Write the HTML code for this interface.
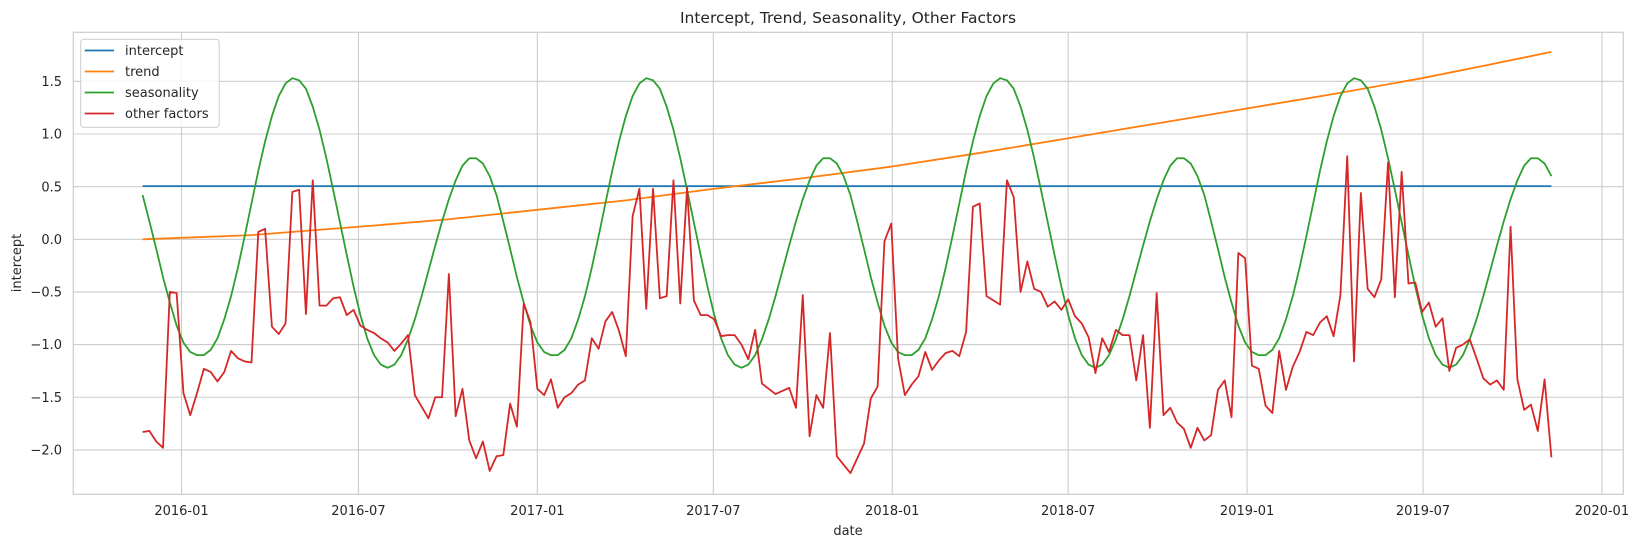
<!DOCTYPE html>
<html><head><meta charset="utf-8">
<style>
html,body{margin:0;padding:0;background:#fff;}
svg{display:block;font-family:"DejaVu Sans","Liberation Sans",sans-serif;}
</style></head>
<body>
<svg id="chart" width="1640" height="547" viewBox="0 0 1640 547" xmlns="http://www.w3.org/2000/svg">
<rect width="1640" height="547" fill="#fff"/>
<text x="848" y="23" text-anchor="middle" font-size="15.5" fill="#262626">Intercept, Trend, Seasonality, Other Factors</text>
<text x="848" y="535" text-anchor="middle" font-size="13" fill="#262626">date</text>
<text transform="translate(21,263) rotate(-90)" text-anchor="middle" font-size="13" fill="#262626">intercept</text>
<g id="grid"></g>
<g id="series"></g>
<rect x="73.3" y="32.3" width="1550" height="462" fill="none" stroke="#cccccc" stroke-width="1.2"/>
<g id="legend"></g>
</svg>
<script>
// ---- data ----
const startDate = "2015-11-22";
const xTickLabels = ["2016-01","2016-07","2017-01","2017-07","2018-01","2018-07","2019-01","2019-07","2020-01"];
const yTickValues = [1.5,1.0,0.5,0.0,-0.5,-1.0,-1.5,-2.0];
const yTickLabels = ["1.5","1.0","0.5","0.0","\u22120.5","\u22121.0","\u22121.5","\u22122.0"];
const interceptValue = [0.505];
const trendWeeks = [0,16,32,45,58,71,84,97,110,123,136,149,162,175,188,198,207];
const trendValues = [0,0.04,0.12,0.19,0.28,0.37,0.48,0.58,0.69,0.82,0.96,1.10,1.24,1.38,1.53,1.66,1.78];
const seasonYear = [0.42,0.17,-0.09,-0.36,-0.60,-0.82,-0.98,-1.07,-1.10,-1.10,-1.05,-0.94,-0.76,-0.54,-0.27,0.03,0.34,0.65,0.93,1.17,1.36,1.48,1.53,1.51,1.43,1.26,1.04,0.77,0.47,0.16,-0.15,-0.45,-0.72,-0.94,-1.10,-1.19,-1.22,-1.19,-1.10,-0.95,-0.76,-0.54,-0.30,-0.06,0.17,0.38,0.56,0.70,0.77,0.77,0.72,0.60];
const otherFactors = [-1.83,-1.82,-1.92,-1.98,-0.50,-0.51,-1.46,-1.67,-1.46,-1.23,-1.26,-1.35,-1.26,-1.06,-1.13,-1.16,-1.17,0.07,0.10,-0.83,-0.90,-0.80,0.45,0.47,-0.71,0.56,-0.63,-0.63,-0.56,-0.55,-0.72,-0.67,-0.82,-0.86,
-0.89,-0.94,-0.98,-1.06,-0.99,-0.91,-1.48,-1.59,-1.70,-1.50,-1.50,-0.33,-1.68,-1.42,-1.91,-2.08,-1.92,-2.20,-2.06,-2.05,-1.56,-1.78,-0.61,-0.79,-1.42,-1.48,-1.33,-1.60,-1.50,-1.46,-1.38,-1.34,-0.94,-1.04,
-0.78,-0.69,-0.87,-1.11,0.22,0.48,-0.66,0.48,-0.56,-0.54,0.56,-0.61,0.49,-0.58,-0.72,-0.72,-0.76,-0.92,-0.91,-0.91,-1.00,-1.14,-0.86,-1.37,-1.42,-1.47,-1.44,-1.41,-1.60,-0.53,-1.87,-1.48,-1.60,-0.89,
-2.06,-2.14,-2.22,-2.08,-1.94,-1.51,-1.40,-0.02,0.15,-1.13,-1.48,-1.38,-1.30,-1.07,-1.24,-1.15,-1.08,-1.06,-1.11,-0.88,0.31,0.34,-0.54,-0.58,-0.62,0.56,0.40,-0.50,-0.21,-0.47,-0.50,-0.64,-0.59,
-0.67,-0.57,-0.73,-0.80,-0.93,-1.27,-0.94,-1.07,-0.86,-0.91,-0.91,-1.34,-0.91,-1.79,-0.51,-1.67,-1.60,-1.74,-1.80,-1.98,-1.79,-1.91,-1.86,-1.43,-1.34,-1.69,-0.13,-0.18,-1.20,-1.23,-1.58,-1.65,-1.06,-1.43,
-1.21,-1.07,-0.88,-0.91,-0.79,-0.73,-0.92,-0.53,0.79,-1.16,0.44,-0.47,-0.55,-0.38,0.73,-0.55,0.64,-0.42,-0.41,-0.69,-0.60,-0.83,-0.75,-1.25,-1.03,-1.00,-0.95,-1.13,-1.32,-1.38,-1.34,
-1.43,0.12,-1.33,-1.62,-1.57,-1.82,-1.33,-2.07];

// ---- scales ----
const NS = "http://www.w3.org/2000/svg";
const day0 = Date.UTC(2016,0,1);
const PX_PER_DAY = 0.97225, X0 = 181.5;
function xDate(s){const p=s.split("-").map(Number);const d=(Date.UTC(p[0],p[1]-1,p[2]||1)-day0)/86400000;return X0+d*PX_PER_DAY;}
const startX = xDate(startDate);
function xWeek(i){return startX + i*7*PX_PER_DAY;}
function yVal(v){return 239.3 - v*105.3;}
function mk(tag,attrs,parent){const e=document.createElementNS(NS,tag);for(const k in attrs)e.setAttribute(k,attrs[k]);parent.appendChild(e);return e;}

const grid = document.getElementById("grid");
xTickLabels.forEach(lbl=>{
  const x = xDate(lbl+"-01");
  const l = mk("line",{x1:x,x2:x,y1:32.3,y2:494.3,stroke:"#cccccc","stroke-width":1.1},grid);
  
  
  const t = mk("text",{x:x,y:515,"text-anchor":"middle","font-size":13,fill:"#262626"},grid);
  t.textContent = lbl;
  
  
});
yTickValues.forEach((v,k)=>{
  const y = yVal(v);
  const l = mk("line",{x1:73.3,x2:1623.3,y1:y,y2:y,stroke:"#cccccc","stroke-width":1.1},grid);
  
  
  const t = mk("text",{x:62,y:y+4.6,"text-anchor":"end","font-size":13,fill:"#262626"},grid);
  t.textContent = yTickLabels[k];
  
  
});

const ser = document.getElementById("series");
function poly(pts,color,name){
  const p = mk("polyline",{points:pts.map(q=>q[0].toFixed(2)+","+q[1].toFixed(2)).join(" "),fill:"none",stroke:color,"stroke-width":1.8,"stroke-linejoin":"round"},ser);
  
  
}
const N = otherFactors.length;
poly([[xWeek(0),yVal(interceptValue[0])],[xWeek(N-1),yVal(interceptValue[0])]],"#1f77b4","intercept-line");
poly(trendWeeks.map((w,k)=>[xWeek(w),yVal(trendValues[k])]),"#ff7f0e","trend-line");
const seasonPts=[];
for(let i=0;i<N;i++){seasonPts.push([xWeek(i),yVal(seasonYear[i%seasonYear.length])]);}
poly(seasonPts,"#2ca02c","seasonality-line");
poly(otherFactors.map((v,i)=>[xWeek(i),yVal(v)]),"#d62728","other-factors-line");

const leg = document.getElementById("legend");
const box = mk("rect",{x:80.7,y:39.3,width:138.5,height:88,rx:3,fill:"#ffffff","fill-opacity":0.8,stroke:"#cccccc","stroke-width":1},leg);


const legNames=["intercept","trend","seasonality","other factors"];
const legColors=["#1f77b4","#ff7f0e","#2ca02c","#d62728"];
legNames.forEach((n,k)=>{
  const y = 50.5 + k*21;
  const l = mk("line",{x1:84.7,x2:114,y1:y,y2:y,stroke:legColors[k],"stroke-width":1.8},leg);
  
  
  const t = mk("text",{x:125,y:y+4.6,"font-size":13,fill:"#262626"},leg);
  t.textContent = n;
  
  
});
</script>
</body></html>
